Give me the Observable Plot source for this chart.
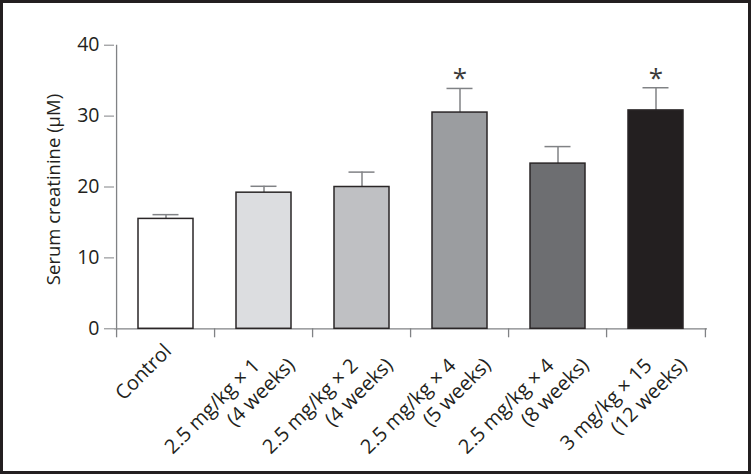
<!DOCTYPE html>
<html><head><meta charset="utf-8">
<script src="https://cdn.jsdelivr.net/npm/d3@7"></script>
<script src="https://cdn.jsdelivr.net/npm/@observablehq/plot@0.6"></script>
<style>
html,body{margin:0;padding:0;background:#fff;}
#wrap{position:relative;width:751px;height:474px;overflow:hidden;background:#fff;}
#border{position:absolute;left:0;top:0;width:751px;height:474px;box-sizing:border-box;border:3px solid #231f20;pointer-events:none;}
</style></head><body>
<div id="wrap"><div id="chart"></div><div id="border"></div></div>
<script>
// ---- data ----
const labelLine1 = ["Control", "2.5 mg/kg × 1", "2.5 mg/kg × 2", "2.5 mg/kg × 4", "2.5 mg/kg × 4", "3 mg/kg × 15"];
const labelLine2 = ["", "(4 weeks)", "(4 weeks)", "(5 weeks)", "(8 weeks)", "(12 weeks)"];
const means = [15.5, 19.2, 20.0, 30.5, 23.3, 30.8];
const errors = [0.6, 0.9, 2.1, 3.4, 2.4, 3.2];
const significant = [false, false, false, true, false, true];
const barFills = ["#ffffff", "#dcdde0", "#bfc0c3", "#9b9da0", "#6d6e71", "#231f20"];
const yTicks = [0, 10, 20, 30, 40];
const yLabel = "Serum creatinine (μM)";

const categories = labelLine1.map((l, i) => l + (labelLine2[i] ? " " + labelLine2[i] : ""));
const rows = categories.map((c, i) => ({
  key: c, line1: labelLine1[i], line2: labelLine2[i],
  mean: means[i], top: means[i] + errors[i], fill: barFills[i], sig: significant[i]
}));

// ---- layout ----
const W = 751, H = 474;
const mL = 114, mR = 44, mT = 44.7, mB = 145.7;
const step = (W - mL - mR) / categories.length;
const ink = "#231f20", axisGray = "#808285";
const labelSize = 20;

const chart = Plot.plot({
  width: W, height: H,
  marginLeft: mL, marginRight: mR, marginTop: mT, marginBottom: mB,
  style: {fontFamily: "'Open Sans', sans-serif", fontSize: "19px", color: ink, background: "#fff"},
  x: {domain: categories, paddingInner: 0.44, paddingOuter: 0.22, axis: null},
  y: {domain: [0, 40], axis: null},
  color: {type: "identity"},
  marks: [
    // y axis
    Plot.axisY({ticks: yTicks, tickSize: 10, tickPadding: 5, stroke: axisGray, fill: ink, fontSize: 19.5, label: null}),
    Plot.ruleX([categories[0]], {x: d => d, dx: -step / 2, stroke: axisGray, strokeWidth: 1.3}),
    // x axis baseline
    Plot.ruleY([0], {stroke: axisGray, strokeWidth: 1.3}),
    // x boundary ticks
    Plot.ruleX(categories, {x: d => d, dx: -step / 2, y1: 0, y2: 0, insetTop: 9, stroke: axisGray, strokeWidth: 1.3}),
    Plot.ruleX([categories[categories.length - 1]], {x: d => d, dx: step / 2, y1: 0, y2: 0, insetTop: 9, stroke: axisGray, strokeWidth: 1.3}),
    // error bars
    Plot.ruleX(rows, {x: "key", y1: "mean", y2: "top", stroke: axisGray, strokeWidth: 1.5}),
    Plot.tickY(rows, {x: "key", y: "top", inset: 14.5, stroke: axisGray, strokeWidth: 1.5}),
    // bars
    Plot.barY(rows, {x: "key", y: "mean", fill: "fill", stroke: "#2a2627", strokeWidth: 1.5}),
    // significance
    Plot.text(rows.filter(d => d.sig), {x: "key", y: "top", text: () => "*", fontSize: 26, lineAnchor: "bottom", dy: -1, fill: "#3a3a3a"}),
    // x labels
    Plot.text(rows.filter(d => !d.line2), {x: "key", frameAnchor: "bottom", text: "line1", rotate: -45, textAnchor: "end", lineAnchor: "bottom", dx: 6.5, dy: 23.5, fontSize: labelSize, fill: ink}),
    Plot.text(rows.filter(d => d.line2), {x: "key", frameAnchor: "bottom", text: "line1", rotate: -45, textAnchor: "end", lineAnchor: "bottom", dx: -3, dy: 38, fontSize: labelSize, fill: ink}),
    Plot.text(rows.filter(d => d.line2), {x: "key", frameAnchor: "bottom", text: "line2", rotate: -45, textAnchor: "end", lineAnchor: "bottom", dx: 32, dy: 37.5, fontSize: labelSize, fill: ink}),
    // y label
    Plot.text([yLabel], {frameAnchor: "left", text: d => d, rotate: -90, textAnchor: "middle", dx: -60, dy: 2.5, fontSize: 18.5, fill: ink})
  ]
});
document.getElementById("chart").appendChild(chart);
</script>
</body></html>
